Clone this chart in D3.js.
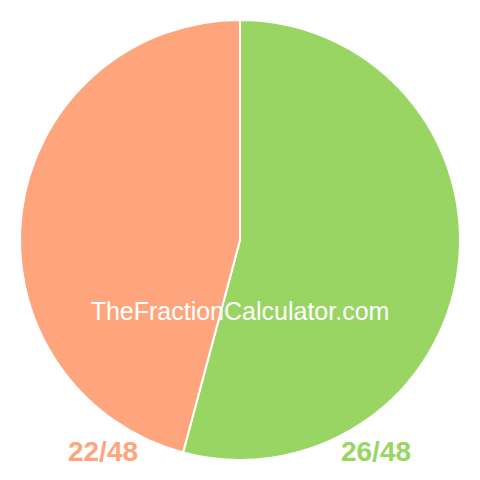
<!DOCTYPE html>
<html>
<head>
<meta charset="utf-8">
<script src="https://cdn.jsdelivr.net/npm/d3@7"></script>
<style>
  html, body { margin: 0; padding: 0; background: #fff; }
</style>
</head>
<body>
<div id="chart"></div>
<script>
(function() {
    "use strict";
    // slices, clockwise from 12 o'clock
    var labels = ["26/48", "22/48"];
    var values = [26, 22];
    var colors = ["#99d562", "#ffa57d"];
    var labelX = [376, 103];

    var W = 480, H = 480, cx = 240, cy = 240, r = 220;

    var svg = d3.select("#chart").append("svg")
        .attr("width", W).attr("height", H)
        .attr("viewBox", "0 0 " + W + " " + H);

    var pie = d3.pie().sort(null).value(function(d) { return d; });
    var arc = d3.arc().innerRadius(0).outerRadius(r);

    var g = svg.append("g").attr("transform", "translate(" + cx + "," + cy + ")");
    g.selectAll("path")
        .data(pie(values))
        .enter().append("path")
        .attr("d", arc)
        .attr("fill", function(d, i) { return colors[i]; })
        .attr("stroke", "#fff")
        .attr("stroke-width", 2);

    svg.append("text")
        .attr("x", cx).attr("y", 320)
        .attr("text-anchor", "middle")
        .attr("font-family", "Liberation Sans, Arial, sans-serif")
        .attr("font-size", 25)
        .attr("fill", "#fff")
        .text("TheFractionCalculator.com");

    svg.selectAll("text.lbl")
        .data(labels)
        .enter().append("text")
        .attr("class", "lbl")
        .attr("x", function(d, i) { return labelX[i]; })
        .attr("y", 461)
        .attr("text-anchor", "middle")
        .attr("font-family", "Liberation Sans, Arial, sans-serif")
        .attr("font-weight", "bold")
        .attr("font-size", 28)
        .attr("fill", function(d, i) { return colors[i]; })
        .text(function(d) { return d; });
}());
</script>
</body>
</html>
